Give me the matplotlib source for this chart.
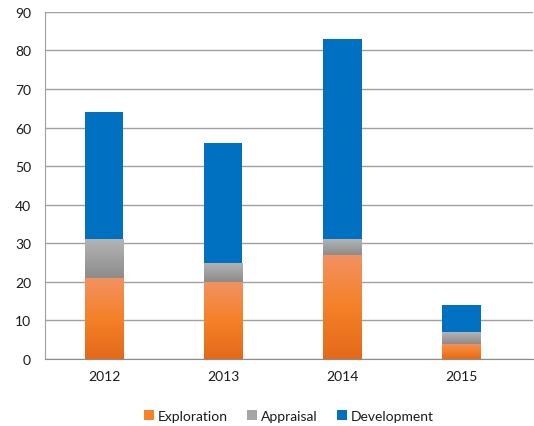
import numpy as np
import matplotlib.pyplot as plt
from matplotlib.colors import LinearSegmentedColormap

years = ["2012", "2013", "2014", "2015"]
exploration = [21, 20, 27, 4]
appraisal = [10, 5, 4, 3]
development = [33, 31, 52, 7]

plt.rcParams["font.family"] = ["Lato", "DejaVu Sans"]

fig = plt.figure(figsize=(5.34, 4.27), dpi=100)
ax = fig.add_axes([0.084, 0.157, 0.914, 0.813])

x = np.arange(len(years))
w = 0.32
expl = np.array(exploration)
appr = np.array(appraisal)

orange_cm = LinearSegmentedColormap.from_list("o", ["#E4691A", "#F58128", "#F29262"])
gray_cm = LinearSegmentedColormap.from_list("g", ["#8C8C8C", "#B4B4B4"])

b1 = ax.bar(x, exploration, w, color="#F58128", label="Exploration", zorder=3)
b2 = ax.bar(x, appraisal, w, bottom=expl, color="#A5A5A5", label="Appraisal", zorder=3)
b3 = ax.bar(x, development, w, bottom=expl + appr, color="#0070C0", label="Development", zorder=3)

# vertical gradients on the orange and gray segments
grad = np.linspace(0, 1, 256).reshape(-1, 1)
for bars, cm in [(b1, orange_cm), (b2, gray_cm)]:
    for p in bars:
        x0, y0 = p.get_x(), p.get_y()
        im = ax.imshow(grad, cmap=cm, origin="lower", aspect="auto",
                       extent=[x0, x0 + p.get_width(), y0, y0 + p.get_height()],
                       zorder=3.5)
        im.set_clip_path(p)

ax.set_xlim(-0.5, 3.6)
ax.set_ylim(0, 90)
ax.set_yticks(range(0, 91, 10))
ax.set_xticks(x)
ax.set_xticklabels(years)
ax.grid(axis="y", color="#A0A0A0", linewidth=1, zorder=0)
for s in ["top", "right"]:
    ax.spines[s].set_visible(False)
ax.spines["left"].set_color("#A0A0A0")
ax.spines["bottom"].set_color("#8C8C8C")
ax.tick_params(length=0, labelsize=10, colors="#1a1a1a", pad=8)
ax.tick_params(axis="y", pad=10)

ax.legend(loc="upper center", bbox_to_anchor=(0.5, -0.11), ncol=3, frameon=False,
          fontsize=10, handlelength=0.7, handleheight=0.7, handletextpad=0.3,
          columnspacing=1.4, labelcolor="#1a1a1a")

fig.savefig("out.png", dpi=100)
